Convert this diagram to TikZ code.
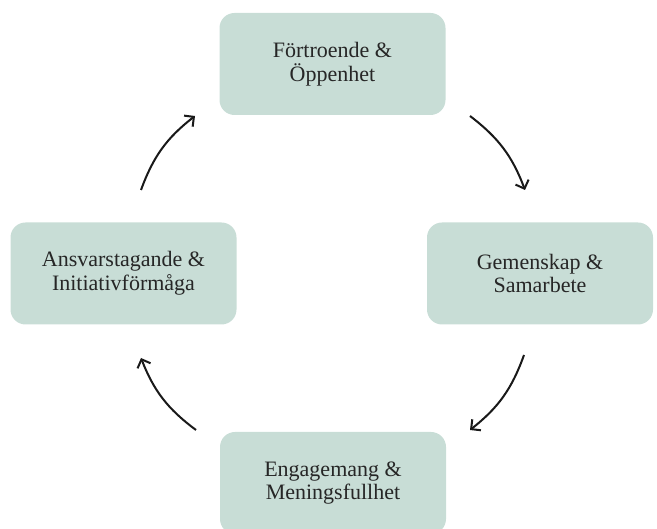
\documentclass[tikz,border=0pt]{standalone}
\usepackage{fontspec}
\setmainfont{Liberation Serif}
\usetikzlibrary{arrows.meta}
\definecolor{boxfill}{RGB}{200,221,214}
\tikzset{
  stage/.style={rectangle, rounded corners=15pt, fill=boxfill, draw=none,
    minimum width=226pt, minimum height=102pt, align=center,
    font=\fontsize{22}{23.5}\selectfont, text=black!85},
  cyclearrow/.style={line width=2pt, draw=black!90,
    -{Straight Barb[length=7pt,width=14pt,line width=2pt]}, bend left=16},
}
\begin{document}
\begin{tikzpicture}[x=1pt,y=1pt]
\useasboundingbox (0,0) rectangle (657,529);
% the four stages, clockwise from the top
\node[stage] (trust)   at (332.5,465) {Förtroende \&\\Öppenhet};
\node[stage] (team)    at (540,255.5) {Gemenskap \&\\Samarbete};
\node[stage] (engage)  at (333,46)    {Engagemang \&\\Meningsfullhet};
\node[stage] (respons) at (123.5,255.5) {Ansvarstagande \&\\Initiativförmåga};
% arrow end points between the stages
\coordinate (a1s) at (470,413);
\coordinate (a1e) at (525,339);
\coordinate (a2s) at (524,174);
\coordinate (a2e) at (470,99);
\coordinate (a3s) at (196,99);
\coordinate (a3e) at (141,171);
\coordinate (a4s) at (141,339);
\coordinate (a4e) at (195,413);
\draw[cyclearrow] (a1s) to (a1e);
\draw[cyclearrow] (a2s) to (a2e);
\draw[cyclearrow] (a3s) to (a3e);
\draw[cyclearrow] (a4s) to (a4e);
\end{tikzpicture}
\end{document}
